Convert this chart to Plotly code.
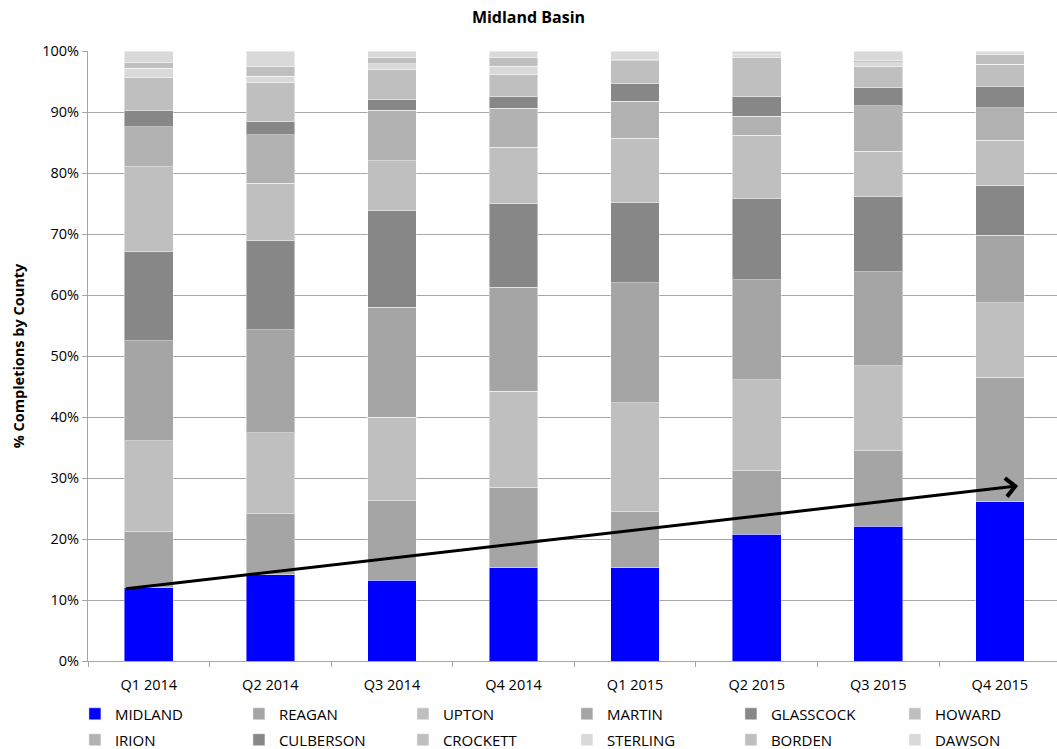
import plotly.graph_objects as go

# Quarters on the category axis
quarters = ["Q1 2014", "Q2 2014", "Q3 2014", "Q4 2014",
            "Q1 2015", "Q2 2015", "Q3 2015", "Q4 2015"]

# Share of completions (%) per county, stacked bottom to top
midland = [12.0, 14.1, 13.2, 15.3, 15.3, 20.8, 22.1, 26.1]
reagan = [9.2, 10.0, 13.1, 13.2, 9.2, 10.4, 12.4, 20.4]
upton = [14.9, 13.3, 13.7, 15.7, 17.8, 14.9, 13.9, 12.2]
martin = [16.4, 16.9, 18.0, 17.1, 19.7, 16.4, 15.4, 11.1]
glasscock = [14.7, 14.6, 15.9, 13.7, 13.2, 13.4, 12.3, 8.1]
howard = [13.8, 9.4, 8.1, 9.2, 10.5, 10.3, 7.5, 7.5]
irion = [6.6, 8.0, 8.3, 6.4, 6.1, 3.1, 7.4, 5.3]
culberson = [2.7, 2.1, 1.7, 1.9, 2.8, 3.2, 3.0, 3.4]
crockett = [5.3, 6.5, 5.0, 3.6, 3.8, 6.4, 3.4, 3.7]
sterling = [1.6, 1.0, 0.9, 1.4, 0.0, 0.5, 0.7, 0.0]
borden = [0.9, 1.6, 1.1, 1.4, 0.2, 0.0, 0.4, 1.7]
dawson = [1.9, 2.5, 1.0, 1.1, 1.4, 0.6, 1.5, 0.5]

# Trend arrow: start and end (category index, %)
trend_start = (-0.2, 11.8)
trend_end = (7.15, 28.7)

series = [
    ("MIDLAND", midland, "#0000FF"),
    ("REAGAN", reagan, "#A5A5A5"),
    ("UPTON", upton, "#BFBFBF"),
    ("MARTIN", martin, "#A5A5A5"),
    ("GLASSCOCK", glasscock, "#878787"),
    ("HOWARD", howard, "#BFBFBF"),
    ("IRION", irion, "#B2B2B2"),
    ("CULBERSON", culberson, "#878787"),
    ("CROCKETT", crockett, "#BFBFBF"),
    ("STERLING", sterling, "#D9D9D9"),
    ("BORDEN", borden, "#BFBFBF"),
    ("DAWSON", dawson, "#D9D9D9"),
]

FONT = "'Open Sans', 'Noto Sans', sans-serif"

fig = go.Figure()
for i, (name, vals, color) in enumerate(series):
    fig.add_trace(go.Bar(
        x=quarters, y=vals, name=name,
        legend="legend" if i < 6 else "legend2",
        marker=dict(color=color, line=dict(color="rgba(255,255,255,0.45)", width=1)),
        hovertemplate="%{x}<br>" + name + ": %{y:.1f}%<extra></extra>",
    ))

fig.add_annotation(
    x=trend_end[0], y=trend_end[1], ax=trend_start[0], ay=trend_start[1],
    xref="x", yref="y", axref="x", ayref="y",
    showarrow=True, arrowhead=4, arrowsize=1.2, arrowwidth=3,
    arrowcolor="#000000", text="",
)

legend_common = dict(
    orientation="h", xanchor="left", yanchor="middle",
    entrywidth=119, entrywidthmode="pixels",
    font=dict(size=15, family=FONT), itemwidth=30,
    traceorder="normal", bgcolor="rgba(0,0,0,0)",
)

fig.update_layout(
    width=1057, height=749,
    barmode="stack", bargap=0.6,
    paper_bgcolor="white", plot_bgcolor="white",
    margin=dict(l=88, r=0, t=51, b=88, autoexpand=False),
    font=dict(family=FONT, size=15, color="#000000"),
    title=dict(text="<b>Midland Basin</b>", x=0.5, xanchor="center",
               y=0.977, yanchor="middle", font=dict(size=16)),
    showlegend=True,
    legend=dict(x=-0.0135, y=-0.087, **legend_common),
    legend2=dict(x=-0.0135, y=-0.1295, **legend_common),
)

fig.update_xaxes(
    type="category", range=[-0.5, 7.47],
    showline=True, linecolor="#A6A6A6", linewidth=1,
    ticks="outside", tickson="boundaries", ticklen=5, tickcolor="#A6A6A6",
    ticklabelstandoff=11,
    showgrid=False, tickfont=dict(size=14.5),
)
fig.update_yaxes(
    range=[0, 100], dtick=10, ticksuffix="%",
    showline=True, linecolor="#A6A6A6", linewidth=1,
    ticks="outside", ticklen=5, tickcolor="#A6A6A6",
    showgrid=True, gridcolor="#A6A6A6", gridwidth=1,
    zeroline=False, tickfont=dict(size=14.5),
    title=dict(text="<b>% Completions by County</b>", font=dict(size=14.5), standoff=14),
)

fig.write_html("out.html")
